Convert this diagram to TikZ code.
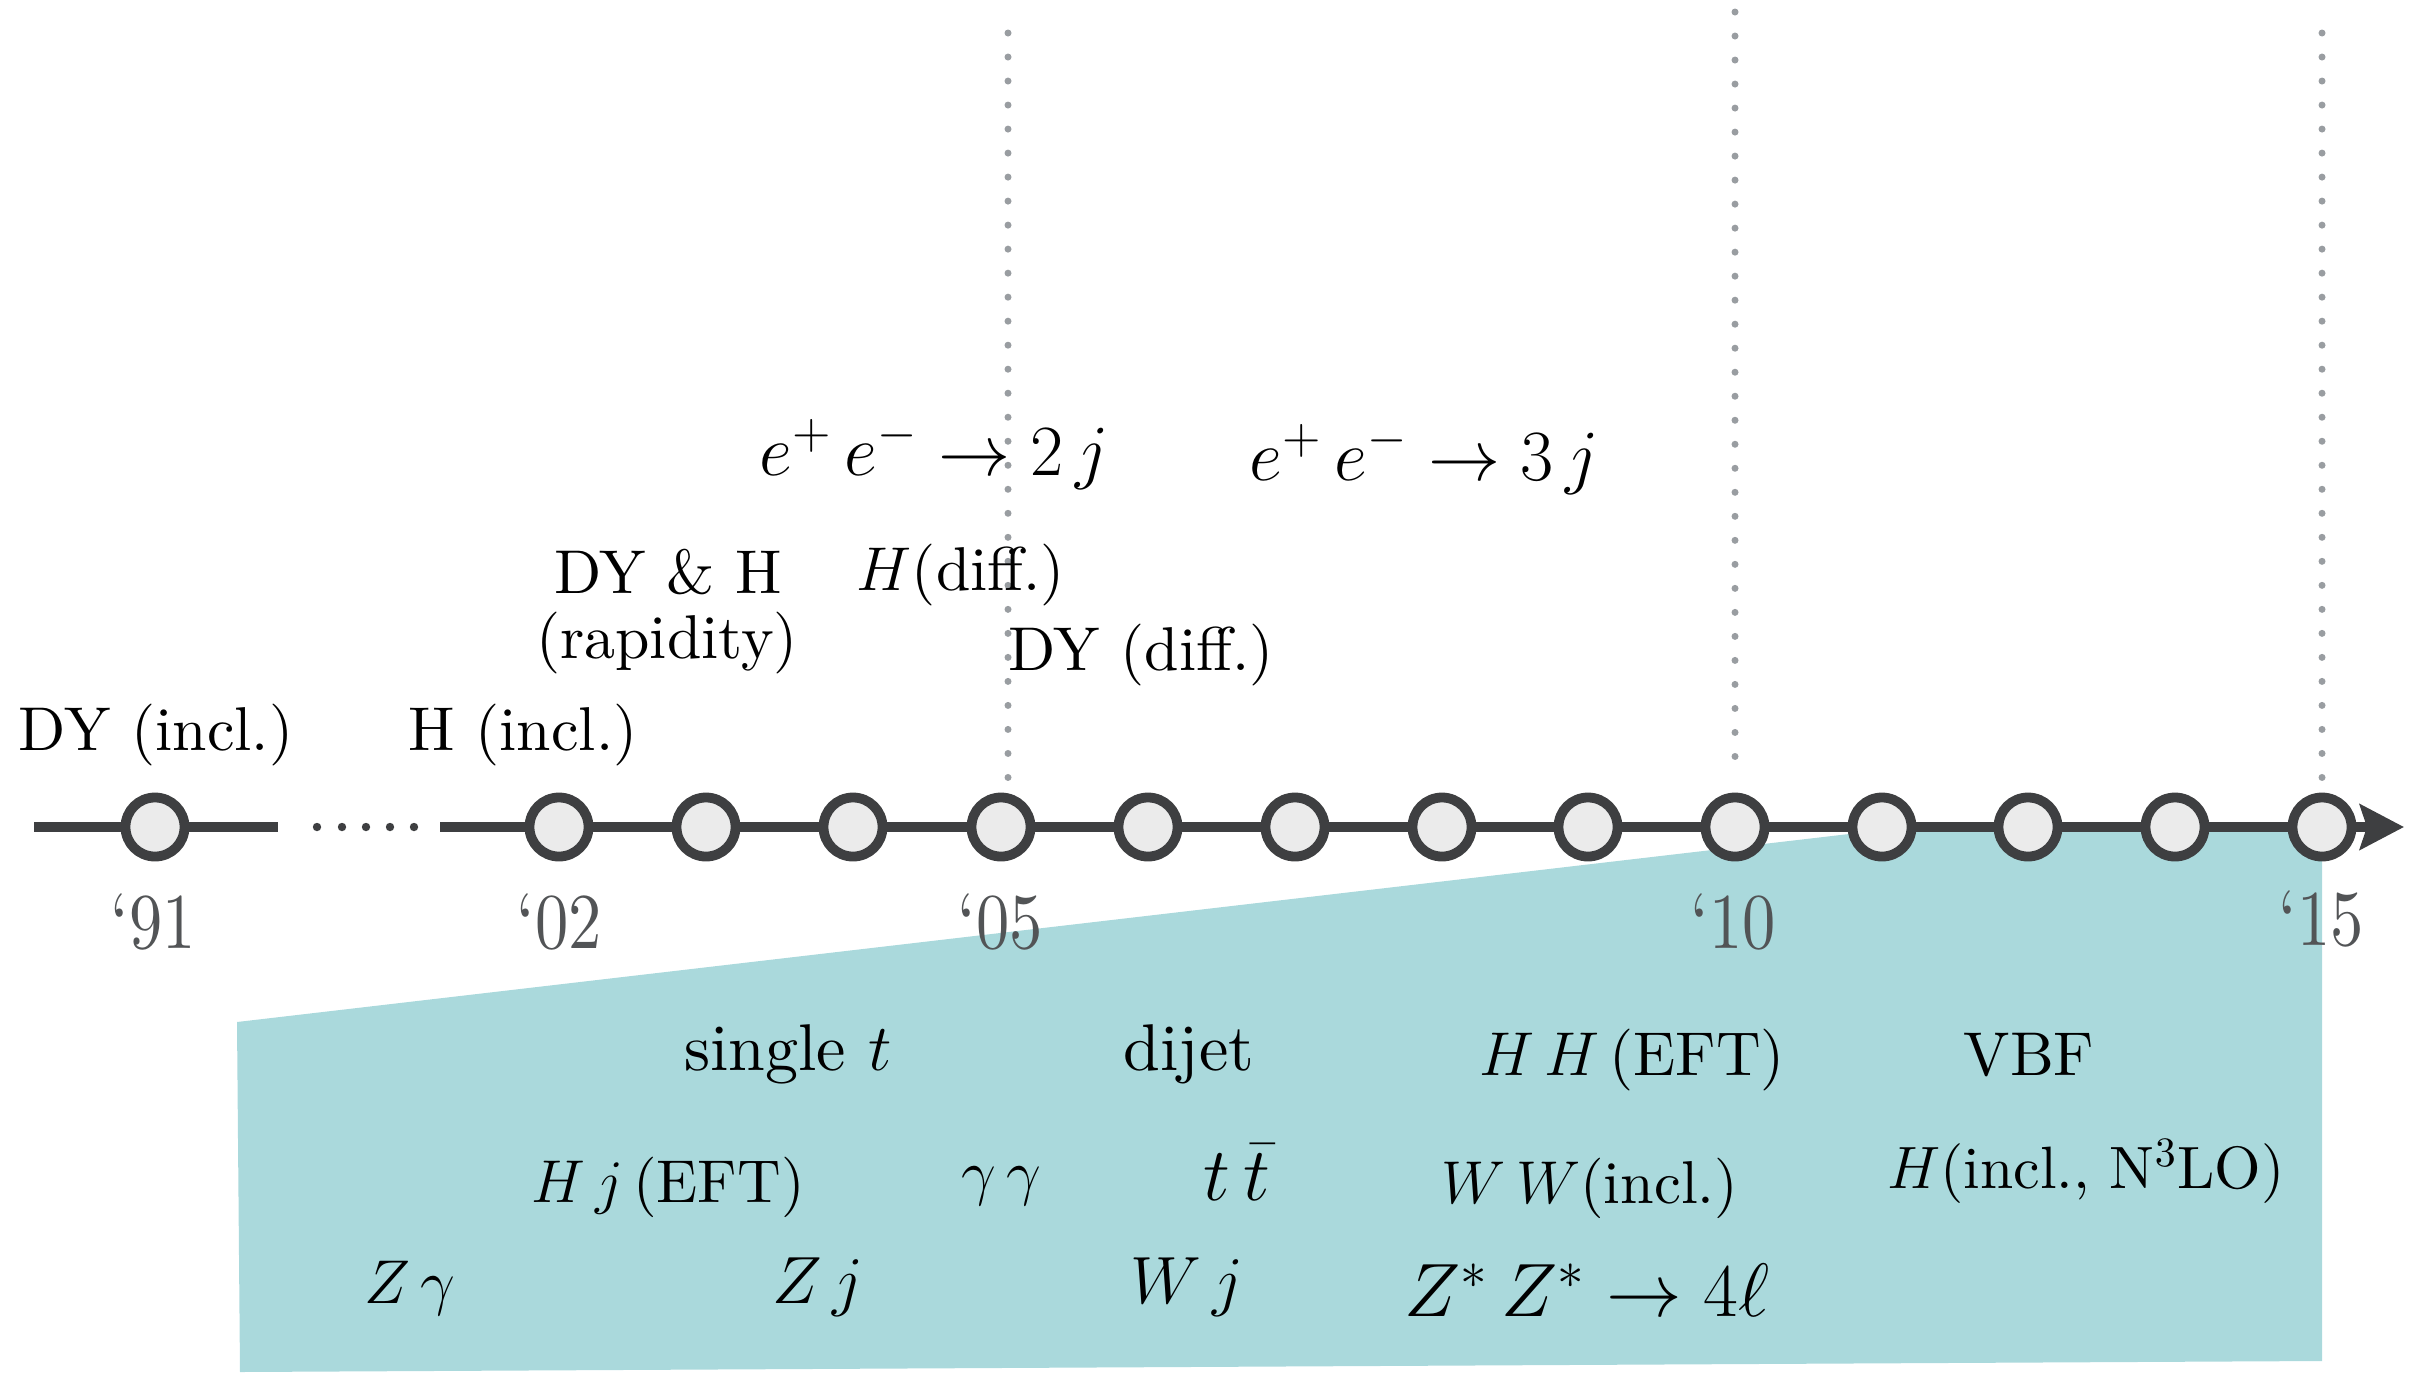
\RequirePackage{fix-cm}
\documentclass[tikz,border=0pt]{standalone}
\usepackage{fontspec}
\setmainfont{lmroman10-regular.otf}[ItalicFont=lmroman10-italic.otf, BoldFont=lmroman10-bold.otf]
\usetikzlibrary{arrows.meta}
\definecolor{axis}{RGB}{62,63,65}
\definecolor{tealband}{RGB}{170,217,220}
\definecolor{dotgray}{RGB}{153,157,161}
\definecolor{circfill}{RGB}{235,235,235}
\definecolor{yeargray}{RGB}{82,84,86}
\begin{document}
\begin{tikzpicture}[x=0.01cm, y=-0.01cm,
  lbl/.style={anchor=base, inner sep=0pt, font=\fontsize{17.6}{21}\selectfont},
  lblm/.style={anchor=base, inner sep=0pt, font=\fontsize{19}{22}\selectfont},
  lblbig/.style={anchor=base, inner sep=0pt, font=\fontsize{20.5}{24}\selectfont},
  yearlbl/.style={anchor=base, inner sep=0pt, text=yeargray, font=\fontsize{22.5}{26}\selectfont, xscale=0.84},
  tick/.style={circle, draw=axis, fill=circfill, line width=0.098cm, minimum size=0.59cm, inner sep=0pt},
  vdots/.style={draw=dotgray, line width=0.07cm, line cap=round, dash pattern=on 0pt off 0.24cm},
  axisline/.style={draw=axis, line width=0.107cm}]
\useasboundingbox (0,0) rectangle (2421,1372);

% teal band
\fill[tealband] (237,1022) -- (1909,827) -- (2322,827) -- (2322,1361) -- (240,1372) -- cycle;

% vertical dotted guides
\coordinate (v5t) at (1008,33);  \coordinate (v5b) at (1008,782);
\coordinate (v10t) at (1735,12); \coordinate (v10b) at (1735,760);
\coordinate (v15t) at (2322,33); \coordinate (v15b) at (2322,778);
\draw[vdots] (v5t) -- (v5b);
\draw[vdots] (v10t) -- (v10b);
\draw[vdots] (v15t) -- (v15b);

% axis
\coordinate (L0) at (34,827);  \coordinate (L1) at (278,827);
\coordinate (R0) at (440,827); \coordinate (R1) at (2404,827);
\draw[axisline] (L0) -- (L1);
\draw[axisline, -{Stealth[length=0.44cm, width=0.45cm, inset=0.07cm]}] (R0) -- (R1);
\foreach \x in {317,342,366,390,414} \fill[axis] (\x,827) circle[radius=0.042cm];

\foreach \i/\x in {1/155, 2/559, 3/706, 4/853, 5/1001, 6/1148, 7/1295, 8/1442, 9/1588, 10/1735, 11/1882, 12/2028, 13/2175, 14/2322}
  \node[tick] (c\i) at (\x,827) {};

% years
\node[yearlbl] (y91) at (153,948) {‘91};
\node[yearlbl] (y02) at (559,948) {‘02};
\node[yearlbl] (y05) at (1000,948) {‘05};
\node[yearlbl] (y10) at (1733,948) {‘10};
\node[yearlbl] (y15) at (2321,945) {‘15};

% upper labels
\node[lbl] (dyincl) at (156,750) {DY (incl.)};
\node[lbl] (hincl) at (523,750) {H (incl.)};
\node[lbl] (dyh) at (668,593) {DY \& H};
\node[lbl] (rap) at (667,658) {(rapidity)};
\node[lbl] (hdiff) at (961,590) {$H$(diff.)};
\node[lbl] (dydiff) at (1141,670) {DY (diff.)};
\node[lblbig] (ee2) at (934,475) {$e^+\,e^-\to 2\,j$};
\node[lblbig] (ee3) at (1424,480) {$e^+\,e^-\to 3\,j$};

% lower labels
\node[lbl, font=\fontsize{18.8}{22}\selectfont] (single) at (788,1070) {single $t$};
\node[lbl, font=\fontsize{18.8}{22}\selectfont] (dijet) at (1189,1070) {dijet};
\node[lbl] (hh) at (1632,1075) {$H\,H\,$(EFT)};
\node[lbl] (vbf) at (2029,1075) {VBF};
\node[lbl, font=\fontsize{17.2}{21}\selectfont] (hj) at (668,1202) {$H\,j\,$(EFT)};
\node[lbl] (gg) at (1001,1193) {$\gamma\,\gamma$};
\node[lblbig, font=\fontsize{21.5}{25}\selectfont] (tt) at (1237,1200) {$t\,\bar{t}$};
\node[lbl, font=\fontsize{17.2}{21}\selectfont] (ww) at (1590,1203) {$W\,W$(incl.)};
\node[lbl, font=\fontsize{17}{21}\selectfont] (hn3lo) at (2086,1188) {$H$(incl., N$^3$LO)};
\node[lbl] (zg) at (410,1303) {$Z\,\gamma$};
\node[lblm] (zj) at (818,1303) {$Z\,j$};
\node[lblm] (wj) at (1187,1303) {$W\,j$};
\node[lblbig, font=\fontsize{21.5}{25}\selectfont] (zz) at (1587,1316) {$Z^*\,Z^*\to 4\ell$};
\end{tikzpicture}
\end{document}
